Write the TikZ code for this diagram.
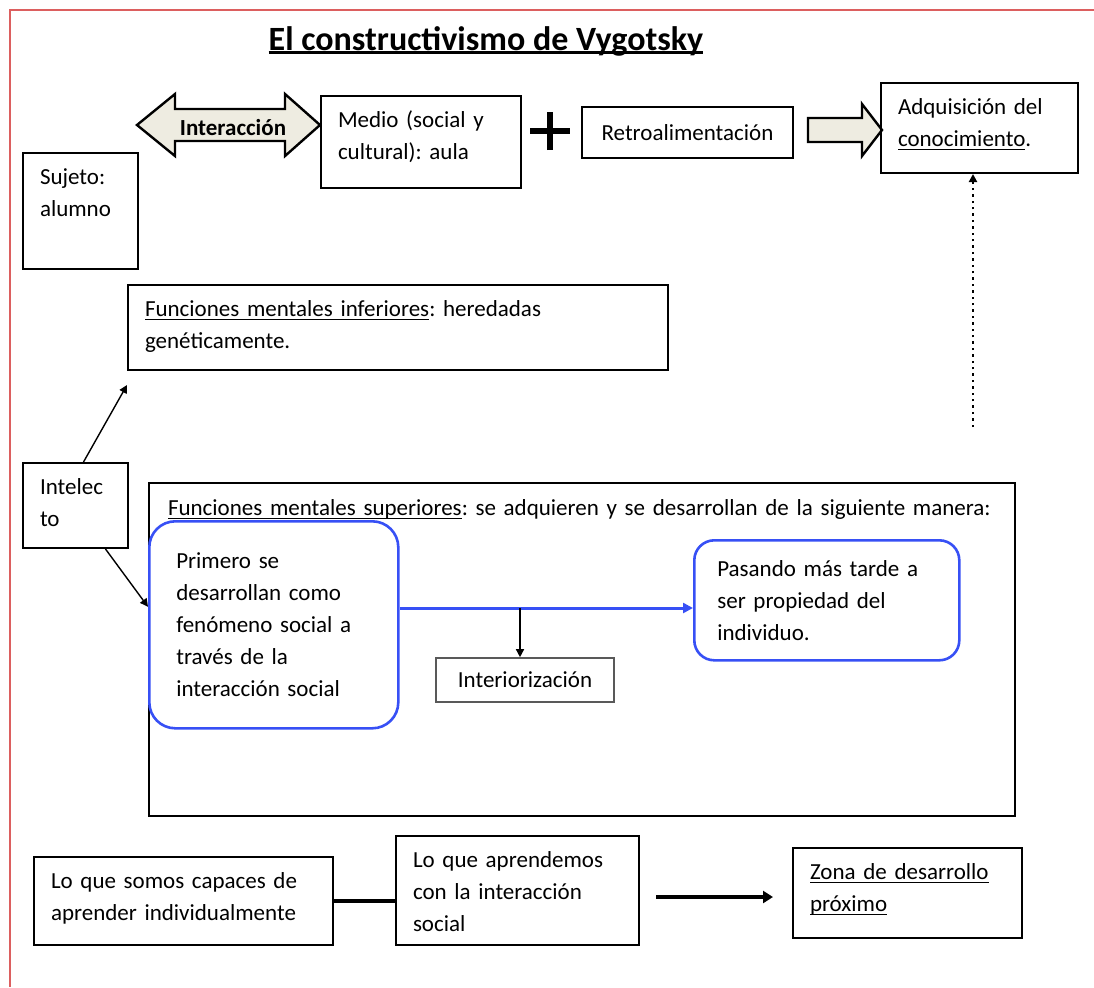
\documentclass[tikz,border=0pt]{standalone}
\usepackage{fontspec}
\setmainfont{Carlito}
\usetikzlibrary{arrows.meta}
\definecolor{beige}{HTML}{EEECE1}
\definecolor{azul}{RGB}{55,80,245}
\definecolor{marco}{RGB}{220,95,95}
\newsavebox{\cajasub}
\newcommand{\subr}[2][0.5pt]{\leavevmode\sbox{\cajasub}{#2}\rlap{\rule[-2pt]{\wd\cajasub}{#1}}\usebox{\cajasub}}
\frenchspacing

\begin{document}
\begin{tikzpicture}[x=0.5pt, y=-0.5pt, font=\fontsize{11.5}{16}\selectfont,
	caja/.style={draw, line width=1pt, anchor=north west, align=left, inner xsep=8.5pt, inner ysep=7.5pt, text height=8pt},
	redonda/.style={draw=azul, line width=1.3pt, anchor=north west, align=left},
	gruesa/.style={draw, line width=1.2pt, fill=beige, line join=miter},
	punta/.style={-{Triangle[length=4pt,width=4pt]}, line width=0.7pt}]
				\useasboundingbox (0,0) rectangle (1094,987);
				\draw[marco, line width=1.2pt] (1094,10) -- (10,10) -- (10,987);
				\node[anchor=base, font=\fontsize{17}{20}\selectfont\bfseries] (titulo) at (486,50) {\subr[1.3pt]{El constructivismo de Vygotsky}};
				% fila de arriba
				\node[caja, text width=40.5pt, text depth=35pt] (sujeto) at (22,152) {Sujeto:\\alumno};
				\draw[gruesa] (137,125) -- (175,94) -- (175,109) -- (285,109) -- (285,94) -- (320,125) -- (285,156) -- (285,141) -- (175,141) -- (175,156) -- cycle;
				\node (interac) at (233,128) {\textbf{Interacción}};
				\node[caja, text width=83pt, text depth=23pt] (medio) at (320,95) {Medio (social y\\cultural): aula};
				\coordinate (mas) at (550,131);
				\draw[line width=2.8pt] ([xshift=-10pt]mas) -- ([xshift=10pt]mas) ([yshift=-9.5pt]mas) -- ([yshift=9.5pt]mas);
				\node[draw, line width=1pt, minimum width=105.5pt, minimum height=25.5pt] (retro) at (687.5,132.5) {Retroalimentación};
				\draw[gruesa] (808,118) -- (862,118) -- (862,104) -- (882,130) -- (862,156) -- (862,142) -- (808,142) -- cycle;
				\node[caja, text width=81.5pt, text depth=22pt] (adquis) at (880,82) {Adquisición del\\\subr{conocimiento}.};
				% funciones mentales
				\node[caja, text width=253pt, text depth=19.5pt] (inferiores) at (127,284) {\subr{Funciones mentales inferiores}: heredadas\\genéticamente.};
				\node[caja, text width=35.5pt, text depth=19.5pt] (intelecto) at (22,462) {Intelec\\to};
				\node[caja, inner xsep=9.5pt, inner ysep=8pt, text width=414pt, text depth=142.5pt] (superiores) at (148,482) {\subr{Funciones mentales superiores}: se adquieren y se desarrollan de la siguiente manera:};
				\node[redonda, rounded corners=13pt, inner xsep=13.5pt, text width=97.5pt, minimum height=103.5pt] (primero) at (148,520) {Primero se\\desarrollan como\\fenómeno social a\\través de la\\interacción social};
				\node[redonda, rounded corners=10pt, inner xsep=11.5pt, text width=109.5pt, minimum height=60pt] (pasando) at (693,539) {Pasando más tarde a\\ser propiedad del\\individuo.};
				\node[draw=black!65, line width=0.8pt, minimum width=89pt, minimum height=22pt] (interior) at (525,680) {Interiorización};
				\coordinate (cruce) at (520,608);
				\draw[azul, line width=1.5pt, -{Triangle[length=5pt,width=5pt]}] (primero.east |- cruce) -- (cruce -| pasando.west);
				\draw[punta] (cruce) -- (cruce |- interior.north);
				\draw[punta] ([xshift=4pt]intelecto.north) -- ([yshift=-7pt]inferiores.south west);
				\draw[punta] ([xshift=15pt]intelecto.south) -- ([yshift=9pt]primero.west);
				\coordinate (punteo) at (973,427);
				\draw[dotted, line width=1.2pt, -{Triangle[length=4pt,width=4pt]}] (punteo) -- (punteo |- adquis.south);
				% fila de abajo
				\node[caja, text width=132.5pt, text depth=21pt] (somos) at (33,856) {Lo que somos capaces de\\aprender individualmente};
				\node[caja, text width=104.5pt, text depth=31.5pt] (aprend) at (395,835) {Lo que aprendemos\\con la interacción\\social};
				\node[caja, text width=97.5pt, text depth=22pt] (zona) at (792,847) {\subr{Zona de desarrollo}\\\subr{próximo}};
				\draw[line width=2pt] (somos.east) -- (somos.east -| aprend.west);
				\coordinate (zpd) at (656,897);
				\coordinate (zpdfin) at (773,897);
				\draw[line width=2pt, -{Triangle[length=5pt,width=6pt]}] (zpd) -- (zpdfin);
			\end{tikzpicture}
\end{document}
